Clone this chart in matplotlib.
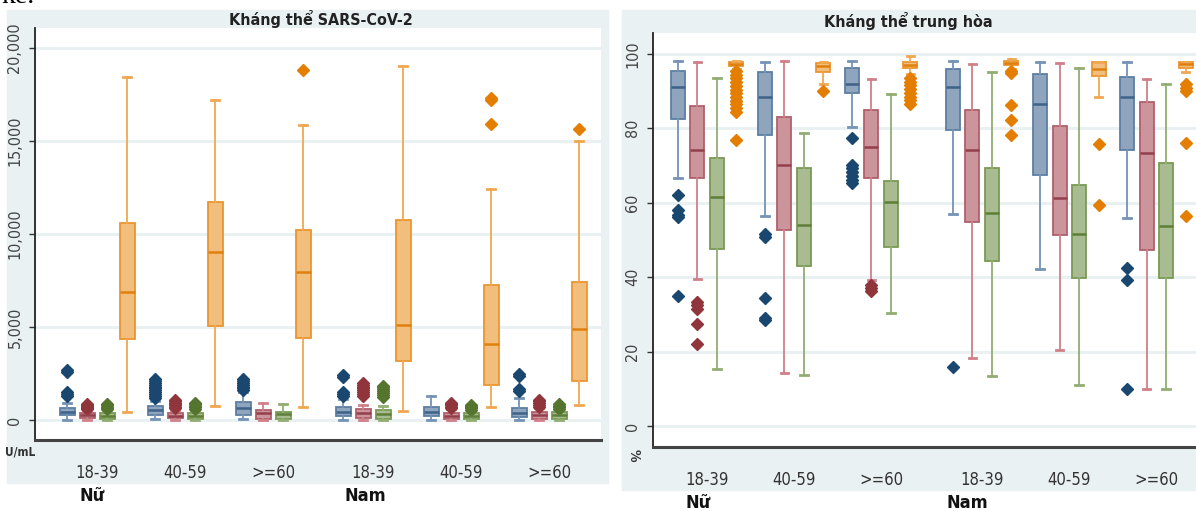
import numpy as np
import matplotlib.pyplot as plt
from matplotlib.patches import Rectangle

# ---------------------------------------------------------------------
# Data
# ---------------------------------------------------------------------
groups = ["18-39", "40-59", ">=60", "18-39", "40-59", ">=60"]
sexes = ["Nữ", "Nam"]

# Left panel: Kháng thể SARS-CoV-2 (U/mL), series: blue, red, green, orange
sars_whislo = [[0, 60, 80, 0, 0, 0],
               [0, 0, 0, 0, 0, 0],
               [0, 0, 0, 0, 0, 0],
               [410, 770, 720, 500, 720, 810]]
sars_q1 = [[270, 270, 270, 215, 215, 145],
           [100, 90, 60, 90, 60, 60],
           [60, 60, 40, 60, 40, 60],
           [4340, 5070, 4430, 3170, 1880, 2120]]
sars_med = [[450, 540, 630, 450, 450, 400],
            [250, 200, 380, 350, 200, 250],
            [200, 200, 300, 300, 200, 250],
            [6900, 9050, 7970, 5110, 4070, 4890]]
sars_q3 = [[660, 770, 985, 716, 716, 627],
           [400, 380, 540, 600, 400, 450],
           [380, 380, 450, 560, 380, 420],
           [10610, 11720, 10210, 10740, 7260, 7440]]
sars_whishi = [[930, 1000, 1500, 1150, 1290, 1165],
               [550, 560, 900, 810, 580, 650],
               [530, 540, 840, 750, 520, 560],
               [18420, 17200, 15860, 19050, 12400, 15000]]
sars_fliers = [
    [[1300, 1400, 1500, 2600, 2700],
     [1200, 1300, 1400, 1500, 1600, 1700, 1800, 1900, 2000, 2100, 2200],
     [1600, 1700, 1800, 1900, 2000, 2100, 2200],
     [1300, 1400, 1500, 2300, 2400],
     [],
     [1550, 1650, 2350, 2450]],
    [[600, 650, 700, 750, 800, 850],
     [620, 700, 780, 860, 940, 1020, 1100],
     [],
     [1300, 1400, 1500, 1600, 1700, 1800, 1900, 2000],
     [620, 700, 780, 860, 940],
     [700, 800, 900, 1000, 1100]],
    [[580, 650, 720, 800, 880],
     [600, 680, 760, 840, 920],
     [],
     [1250, 1350, 1450, 1550, 1650, 1750, 1850],
     [560, 620, 680, 740, 800],
     [600, 680, 760, 840]],
    [[], [], [18820], [], [17200, 17320, 15920], [15640]],
]

# Right panel: Kháng thể trung hòa (%)
neut_whislo = [[66.6, 56.5, 80.3, 57.0, 42.1, 56.0],
               [39.5, 14.3, 39.2, 18.2, 20.4, 9.9],
               [15.2, 13.8, 30.3, 13.3, 11.0, 9.9],
               [96.0, 91.9, 94.5, 96.0, 88.3, 95.0]]
neut_q1 = [[82.5, 78.1, 89.6, 79.6, 67.5, 74.2],
           [66.6, 52.7, 66.6, 54.7, 51.3, 47.3],
           [47.6, 43.1, 48.0, 44.2, 39.7, 39.7],
           [96.8, 95.2, 96.1, 97.0, 94.0, 96.3]]
neut_med = [[91.0, 88.4, 91.9, 91.0, 86.6, 88.3],
            [74.2, 70.2, 75.1, 74.2, 61.2, 73.3],
            [61.4, 54.0, 60.3, 57.3, 51.6, 53.8],
            [97.3, 96.6, 97.0, 97.5, 95.9, 97.2]]
neut_q3 = [[95.4, 95.1, 96.1, 95.9, 94.5, 93.9],
           [86.0, 83.0, 84.8, 84.9, 80.6, 87.0],
           [72.0, 69.3, 65.7, 69.3, 64.8, 70.6],
           [97.8, 97.5, 97.9, 98.0, 97.9, 97.9]]
neut_whishi = [[98.1, 97.8, 98.2, 98.1, 97.9, 97.7],
               [97.8, 98.2, 93.2, 97.3, 97.5, 93.2],
               [93.6, 78.7, 89.2, 95.0, 96.3, 91.9],
               [98.0, 97.9, 99.5, 98.6, 97.9, 97.9]]
neut_fliers = [
    [[62.1, 58.1, 56.8, 56.1, 34.8],
     [51.5, 50.9, 34.3, 29.0, 28.5],
     [77.3, 70.2, 69.2, 68.2, 67.2, 66.2, 65.2],
     [15.9],
     [],
     [42.4, 39.2, 9.9]],
    [[33.4, 32.4, 31.4, 27.4, 22.0], [], [37.8, 37.0, 36.4], [], [], []],
    [[], [], [], [], [], []],
    [[95.4, 94.4, 93.4, 92.4, 91.4, 90.4, 89.4, 88.4, 87.4, 86.4, 85.4, 84.4, 76.8],
     [89.9],
     [93.5, 92.5, 91.5, 90.5, 89.5, 88.5, 87.5, 86.5],
     [95.5, 94.8, 86.3, 82.1, 78.2],
     [75.7, 59.4],
     [91.9, 90.9, 89.9, 76.0, 56.5]],
]

# ---------------------------------------------------------------------
# Style
# ---------------------------------------------------------------------
W, H = 1196, 511
BG = "#eaf1f3"
fills = ["#8fa5bd", "#cc949b", "#a9bb90", "#f2be7e"]
edges = ["#5d7fa3", "#b0606c", "#7a9a55", "#eb9530"]
whisk = ["#7493b6", "#cf8089", "#92ad72", "#f0a750"]
meds = ["#3f6288", "#94404c", "#5e7f38", "#e0800c"]
dots = ["#1a476f", "#90353b", "#55752f", "#e37e00"]
FONT = dict(family="DejaVu Sans", stretch="condensed")

fig = plt.figure(figsize=(W / 100, H / 100), dpi=100)


def fx(x):
    return x / W


def fy(y):
    return 1 - y / H


# panel backgrounds
fig.patches.append(Rectangle((fx(7), fy(483)), fx(601), (483 - 10) / H,
                             transform=fig.transFigure, color=BG, zorder=-5))
fig.patches.append(Rectangle((fx(622), fy(490)), fx(574), (490 - 10) / H,
                             transform=fig.transFigure, color=BG, zorder=-5))

# leftover document text at the very top
fig.text(fx(2), fy(-3), "kê.", family="Liberation Serif", fontsize=20,
         ha="left", va="center")


def panel(rect, whislo, q1, med, q3, whishi, fliers, first, step, gstep, gap,
          width, xlim, ylim, yticks, yticklabels, title, title_xy, unit, unit_xy,
          unit_rot, sex_xy, xpad):
    ax = fig.add_axes(rect)
    ax.set_facecolor("white")
    for k in range(4):
        stats = []
        pos = []
        for g in range(6):
            stats.append(dict(whislo=whislo[k][g], q1=q1[k][g], med=med[k][g],
                              q3=q3[k][g], whishi=whishi[k][g],
                              fliers=np.array(fliers[k][g], dtype=float)))
            pos.append(first + g * gstep + (gap if g >= 3 else 0) + k * step)
        ax.bxp(stats, positions=pos, widths=width, capwidths=width * 0.55,
               patch_artist=True, manage_ticks=False,
               boxprops=dict(facecolor=fills[k], edgecolor=edges[k], lw=1.3),
               whiskerprops=dict(color=whisk[k], lw=1.3),
               capprops=dict(color=whisk[k], lw=2.0),
               medianprops=dict(color=meds[k], lw=1.8),
               flierprops=dict(marker="D", markersize=5.8, markerfacecolor=dots[k],
                               markeredgecolor=dots[k], linestyle="none"))
    centers = [first + g * gstep + (gap if g >= 3 else 0) + 1.5 * step for g in range(6)]
    ax.set_xticks(centers)
    ax.set_xticklabels(groups, fontsize=12, color="#333333", **FONT)
    ax.tick_params(axis="x", length=0, pad=xpad)
    ax.set_xlim(*xlim)
    ax.set_ylim(*ylim)
    ax.set_yticks(yticks)
    ax.set_yticklabels(yticklabels, rotation=90, va="center", fontsize=11.5,
                       color="#444444", **FONT)
    ax.tick_params(axis="y", length=4, width=1, color="#333333", pad=5)
    ax.grid(axis="y", color="#e8f0f2", lw=2)
    ax.set_axisbelow(True)
    for s in ["top", "right"]:
        ax.spines[s].set_visible(False)
    ax.spines["left"].set_color("#222222")
    ax.spines["left"].set_linewidth(1.3)
    ax.spines["bottom"].set_color("#444444")
    ax.spines["bottom"].set_linewidth(2.2)
    fig.text(fx(title_xy[0]), fy(title_xy[1]), title, ha="center", va="center",
             fontsize=11.5, fontweight="bold", color="#222222", **FONT)
    fig.text(fx(unit_xy[0]), fy(unit_xy[1]), unit, ha="center", va="center",
             fontsize=8.5 if unit_rot == 0 else 10, fontweight="bold",
             rotation=unit_rot, color="#333333", **FONT)
    for name, (sx, sy) in zip(sexes, sex_xy):
        fig.text(fx(sx), fy(sy), name, ha="center", va="center", fontsize=13,
                 fontweight="bold", color="#111111", **FONT)
    return ax


# left axes: x 35..601 px, y 28..440 px
panel([fx(35), fy(440), (601 - 35) / W, (440 - 28) / H],
      sars_whislo, sars_q1, sars_med, sars_q3, sars_whishi, sars_fliers,
      first=67, step=20, gstep=88, gap=12, width=15, xlim=(35, 601),
      ylim=(-1075, 21075), yticks=[0, 5000, 10000, 15000, 20000],
      yticklabels=["0", "5,000", "10,000", "15,000", "20,000"],
      title="Kháng thể SARS-CoV-2", title_xy=(321, 19),
      unit="U/mL", unit_xy=(20, 452), unit_rot=0,
      sex_xy=[(92, 496), (365, 496)], xpad=17)

# right axes: x 653..1196 px, y 33..447 px
panel([fx(653), fy(447), (1196 - 653) / W, (447 - 33) / H],
      neut_whislo, neut_q1, neut_med, neut_q3, neut_whishi, neut_fliers,
      first=678, step=19.5, gstep=87, gap=14, width=14, xlim=(653, 1196),
      ylim=(-5.65, 105.6), yticks=[0, 20, 40, 60, 80, 100],
      yticklabels=["0", "20", "40", "60", "80", "100"],
      title="Kháng thể trung hòa", title_xy=(908, 21),
      unit="%", unit_xy=(634, 455), unit_rot=270,
      sex_xy=[(698, 503), (967, 503)], xpad=17)

fig.savefig("out.png", dpi=100)
